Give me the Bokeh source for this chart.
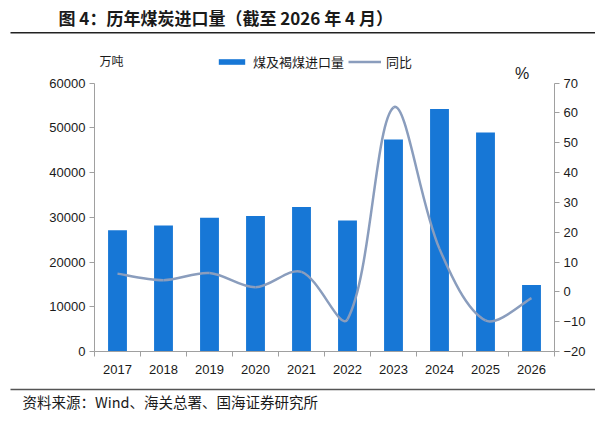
import math
from bokeh.plotting import figure
from bokeh.models import (Range1d, LinearAxis, FixedTicker, Label,
                          Legend, LegendItem, ColumnDataSource)
from bokeh.layouts import column
from bokeh.embed import file_html
from bokeh.resources import INLINE

# ---- data ----
years = ["2017", "2018", "2019", "2020", "2021", "2022", "2023", "2024", "2025", "2026"]
imports = [27090, 28150, 29900, 30300, 32300, 29250, 47400, 54200, 48950, 14850]   # 万吨
yoy = [6.1, 3.9, 6.3, 1.5, 6.7, -9.2, 61.8, 14.4, -9.6, -2.1]                     # %
left_ticks = [0, 10000, 20000, 30000, 40000, 50000, 60000]
right_ticks = [-20, -10, 0, 10, 20, 30, 40, 50, 60, 70]

title_text = "图 4：历年煤炭进口量（截至 2026 年 4 月）"
source_text = "资料来源：Wind、海关总署、国海证券研究所"
bar_name = "煤及褐煤进口量"
line_name = "同比"
left_unit = "万吨"
right_unit = "%"

BAR_C = "#1777D6"
LINE_C = "#8A9DBD"
AX_C = "#A0A0A0"
TXT_C = "#1a1a1a"
NUM_FONT = "Liberation Sans"
CJK_FONT = "Noto Sans CJK SC"

W = 595
H_HEAD, H_RULE, H_MAIN, H_FOOT = 29, 12, 342, 28


def no_align(f):
    try:
        f.frame_align = False
    except Exception:
        pass


def blank_fig(h):
    f = figure(width=W, height=h, output_backend="svg", toolbar_location=None,
               x_range=Range1d(0, W), y_range=Range1d(0, h),
               x_axis_location=None, y_axis_location=None,
               min_border=0, min_border_left=0, min_border_right=0,
               min_border_top=0, min_border_bottom=0)
    f.outline_line_color = None
    f.xgrid.grid_line_color = None
    f.ygrid.grid_line_color = None
    no_align(f)
    return f


# ---- header ----
head = blank_fig(H_HEAD)
head.add_layout(Label(x=58, y=H_HEAD - 17, text=title_text, text_font=CJK_FONT,
                      text_font_size="17px", text_font_style="bold", text_color=TXT_C,
                      text_baseline="middle"))
rule = blank_fig(H_RULE)
rule.quad(left=[10], right=[W], bottom=[H_RULE - 4], top=[H_RULE - 2.5],
          fill_color="#222222", line_color=None)

# ---- main chart ----
FRAME_H_ACT = 307.7
PX_PER_60000 = 266.5
FRAME_W = 460
y_top = 60000 * FRAME_H_ACT / PX_PER_60000
r_top = -20 + 90 * FRAME_H_ACT / PX_PER_60000

p = figure(width=W, height=H_MAIN, output_backend="svg", toolbar_location=None,
           x_range=Range1d(-0.5, len(years) - 0.5), y_range=Range1d(0, y_top),
           min_border_left=94, min_border_right=W - 94 - FRAME_W, min_border_top=0,
           min_border_bottom=32)
p.outline_line_color = None
p.xgrid.grid_line_color = None
p.ygrid.grid_line_color = None
p.extra_y_ranges = {"pct": Range1d(-20, r_top)}
no_align(p)

xs = list(range(len(years)))
src = ColumnDataSource(dict(x=xs, top=imports))
bars = p.vbar(x="x", top="top", width=0.41, source=src, fill_color=BAR_C, line_color=None)

# smoothed line: bezier segments through the data points, tangents scaled by
# neighbouring chord lengths (measured in pixels)
n = len(xs)
SX = FRAME_W / n
SY = PX_PER_60000 / 90.0


def dist(i, j):
    return math.hypot((xs[j] - xs[i]) * SX, (yoy[j] - yoy[i]) * SY)


def tangent(i):
    a = max(i - 1, 0)
    b = min(i + 1, n - 1)
    return (xs[b] - xs[a], yoy[b] - yoy[a])


F = 1.0 / 6.0
x0, y0, x1, y1, cx0, cy0, cx1, cy1 = [], [], [], [], [], [], [], []
for i in range(n - 1):
    d = dist(i, i + 1)
    dp = dist(i - 1, i) if i > 0 else d
    dn = dist(i + 1, i + 2) if i + 2 < n else d
    k1 = F * 2 * d / (dp + d)
    k2 = F * 2 * d / (d + dn)
    t1 = tangent(i)
    t2 = tangent(i + 1)
    x0.append(xs[i]); y0.append(yoy[i]); x1.append(xs[i + 1]); y1.append(yoy[i + 1])
    cx0.append(xs[i] + t1[0] * k1); cy0.append(yoy[i] + t1[1] * k1)
    cx1.append(xs[i + 1] - t2[0] * k2); cy1.append(yoy[i + 1] - t2[1] * k2)
line = p.bezier(x0=x0, y0=y0, x1=x1, y1=y1, cx0=cx0, cy0=cy0, cx1=cx1, cy1=cy1,
                y_range_name="pct", line_color=LINE_C, line_width=2.5)

# x axis
xax = p.xaxis[0]
xax.ticker = FixedTicker(ticks=xs, minor_ticks=[i - 0.5 for i in range(n + 1)])
xax.major_label_overrides = {i: y for i, y in enumerate(years)}
xax.major_tick_out = 0
xax.major_tick_in = 0
xax.minor_tick_out = 5
xax.minor_tick_in = 0
xax.minor_tick_line_color = AX_C
xax.axis_line_color = AX_C
xax.major_label_text_font = NUM_FONT
xax.major_label_text_font_size = "13px"
xax.major_label_text_color = TXT_C
xax.major_label_standoff = 8


def style_y(ax):
    ax.major_tick_out = 5
    ax.major_tick_in = 0
    ax.minor_tick_out = 0
    ax.minor_tick_in = 0
    ax.axis_line_color = AX_C
    ax.major_tick_line_color = AX_C
    ax.major_label_text_font = NUM_FONT
    ax.major_label_text_font_size = "13px"
    ax.major_label_text_color = TXT_C
    ax.major_label_standoff = 4


yax = p.yaxis[0]
yax.ticker = FixedTicker(ticks=left_ticks)
yax.bounds = (left_ticks[0], left_ticks[-1])
style_y(yax)

rax = LinearAxis(y_range_name="pct", ticker=FixedTicker(ticks=right_ticks),
                 bounds=(right_ticks[0], right_ticks[-1]))
style_y(rax)
p.add_layout(rax, "right")

legend = Legend(items=[LegendItem(label=bar_name, renderers=[bars]),
                       LegendItem(label=line_name, renderers=[line])],
                orientation="horizontal", location=(121, 280),
                glyph_width=33, glyph_height=7, label_standoff=5, spacing=4,
                padding=0, margin=0, border_line_color=None, background_fill_alpha=0,
                label_text_font=CJK_FONT, label_text_font_size="13px",
                label_text_color=TXT_C, label_height=14)
p.add_layout(legend, "center")

p.add_layout(Label(x=5, y=291, x_units="screen", y_units="screen", text=left_unit,
                   text_font=CJK_FONT, text_font_size="12px", text_color=TXT_C,
                   text_baseline="middle"))
p.add_layout(Label(x=427.5, y=278, x_units="screen", y_units="screen", text=right_unit,
                   text_font=NUM_FONT, text_font_size="16px", text_color=TXT_C,
                   text_baseline="middle", text_align="center"))

# ---- footer ----
foot = blank_fig(H_FOOT)
foot.quad(left=[10], right=[W], bottom=[H_FOOT - 6.8], top=[H_FOOT - 5.3],
          fill_color="#555555", line_color=None)
foot.add_layout(Label(x=22, y=H_FOOT - 18, text=source_text, text_font=CJK_FONT,
                      text_font_size="14.5px", text_color=TXT_C, text_baseline="middle"))

page = column(head, rule, p, foot, spacing=0)
open("out.html", "w").write(file_html(page, INLINE))
